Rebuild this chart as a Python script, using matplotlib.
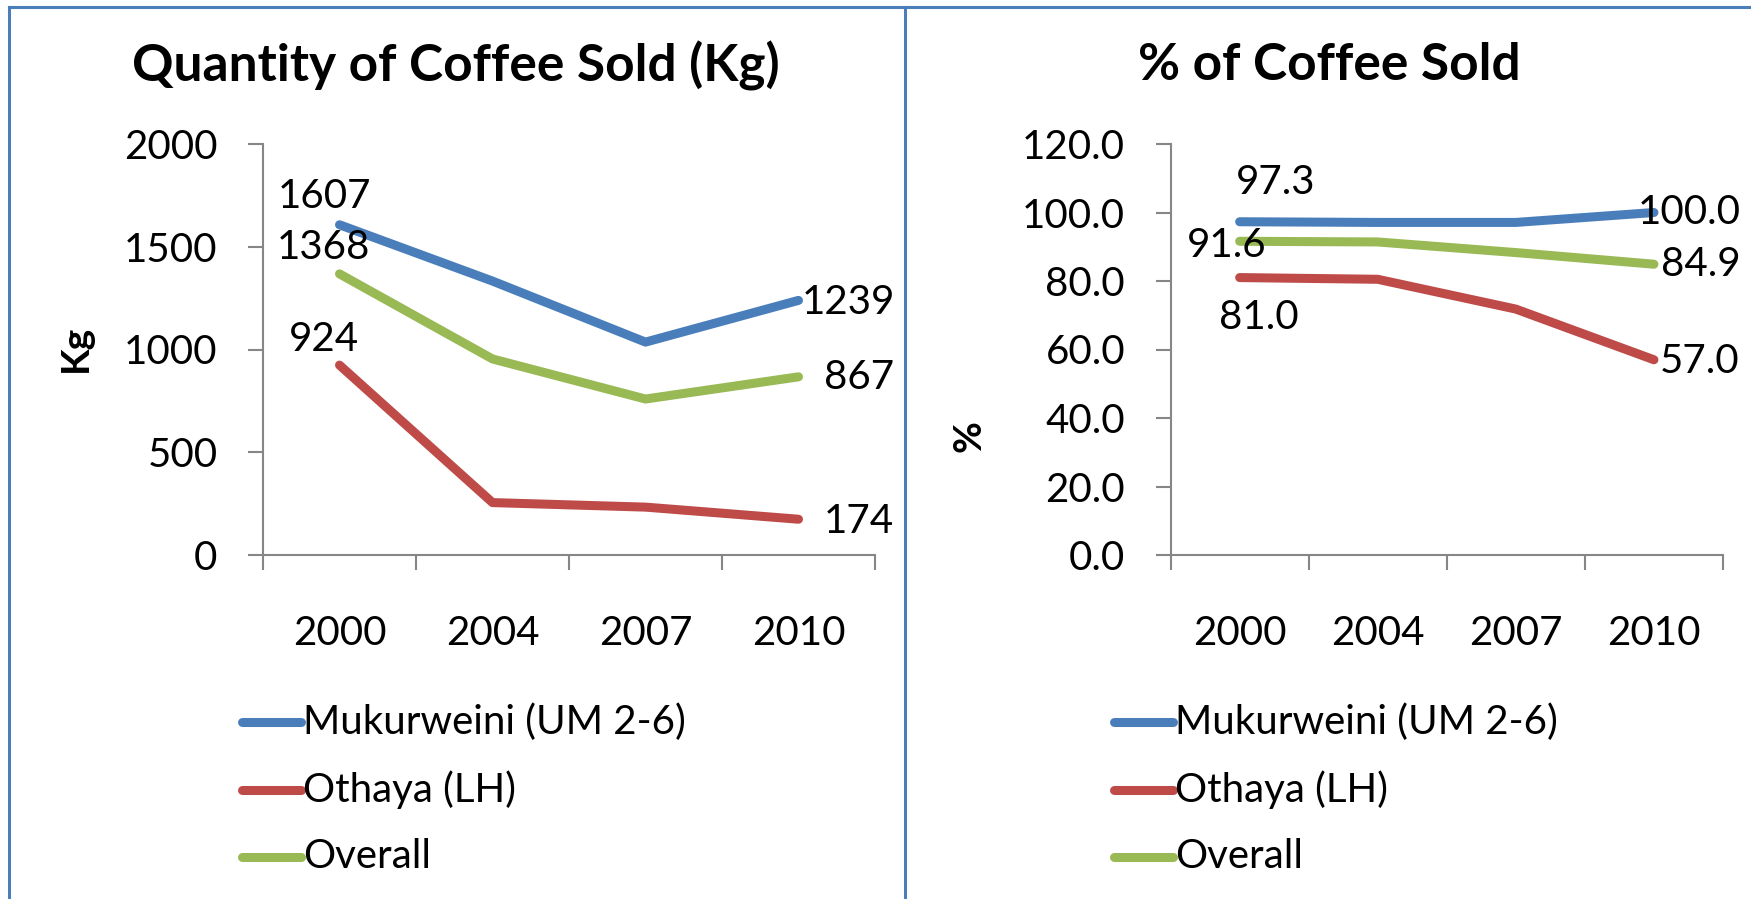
import matplotlib
matplotlib.use("Agg")
import matplotlib.pyplot as plt
from matplotlib.lines import Line2D

plt.rcParams['font.family'] = ['Lato', 'DejaVu Sans']

years = ["2000", "2004", "2007", "2010"]
series_names = ["Mukurweini (UM 2-6)", "Othaya (LH)", "Overall"]
colors = ["#4A7EBB", "#BE4B48", "#98B954"]

qty_mukurweini = [1607, 1333, 1036, 1239]
qty_othaya = [924, 255, 233, 174]
qty_overall = [1368, 954, 759, 867]

pct_mukurweini = [97.3, 97.1, 97.1, 100.0]
pct_othaya = [81.0, 80.5, 71.8, 57.0]
pct_overall = [91.6, 91.4, 88.3, 84.9]

W, H = 1751, 899
fig = plt.figure(figsize=(W / 100, H / 100), dpi=100)

def fx(px):
    return px / W

def fy(py):
    return 1 - py / H

ax_color = "#868686"
FS = 29

def setup_axes(ax, ylim, yticks, fmt):
    ax.set_xlim(-0.5, 3.5)
    ax.set_ylim(*ylim)
    for s in ["top", "right"]:
        ax.spines[s].set_visible(False)
    for s in ["left", "bottom"]:
        ax.spines[s].set_color(ax_color)
        ax.spines[s].set_linewidth(1.5)
    ax.set_yticks(yticks)
    ax.set_yticklabels([fmt.format(v) for v in yticks], fontsize=FS)
    ax.set_xticks(range(len(years)))
    ax.set_xticklabels(years, fontsize=FS)
    ax.set_xticks([i - 0.5 for i in range(len(years) + 1)], minor=True)
    ax.tick_params(axis="x", which="major", length=0, pad=43)
    ax.tick_params(axis="x", which="minor", length=10.8, width=1.5, color=ax_color, direction="out")
    ax.tick_params(axis="y", which="major", length=10.8, width=1.5, color=ax_color, direction="out", pad=22)
    ax.set_facecolor("none")

# Left panel
axL = fig.add_axes([fx(263), fy(555), fx(875) - fx(263), fy(144) - fy(555)])
setup_axes(axL, (0, 2000), [0, 500, 1000, 1500, 2000], "{:.0f}")
qty = [qty_mukurweini, qty_othaya, qty_overall]
for vals, c in zip(qty, colors):
    axL.plot(range(len(years)), vals, color=c, lw=6.5, solid_capstyle="round", clip_on=False)

left_first_offsets = [(-15, 28), (-16, 26), (-16, 26)]
left_last_offsets = [(3, -2), (25, -2), (25, -1)]
for vals, o1, o2 in zip(qty, left_first_offsets, left_last_offsets):
    axL.annotate(f"{vals[0]:.0f}", (0, vals[0]), xytext=o1, textcoords="offset pixels",
                 ha="center", va="center", fontsize=FS, annotation_clip=False)
    axL.annotate(f"{vals[-1]:.0f}", (3, vals[-1]), xytext=o2, textcoords="offset pixels",
                 ha="left", va="center", fontsize=FS, annotation_clip=False)

# Right panel
axR = fig.add_axes([fx(1170.6), fy(555), fx(1723) - fx(1170.6), fy(144) - fy(555)])
setup_axes(axR, (0, 120), [0, 20, 40, 60, 80, 100, 120], "{:.1f}")
pct = [pct_mukurweini, pct_othaya, pct_overall]
for vals, c in zip(pct, colors):
    axR.plot(range(len(years)), vals, color=c, lw=6.5, solid_capstyle="round", clip_on=False)

right_first = [((36, 39), "center"), ((19, -40), "center"), ((-13, -4), "center")]
right_last = [((-16, 0), "left"), ((6, -2), "left"), ((7, 0), "left")]
for vals, (o1, h1), (o2, h2) in zip(pct, right_first, right_last):
    axR.annotate(f"{vals[0]:.1f}", (0, vals[0]), xytext=o1, textcoords="offset pixels",
                 ha=h1, va="center", fontsize=FS, annotation_clip=False)
    axR.annotate(f"{vals[-1]:.1f}", (3, vals[-1]), xytext=o2, textcoords="offset pixels",
                 ha=h2, va="center", fontsize=FS, annotation_clip=False)

# Titles and axis labels
fig.text(fx(456), fy(66), "Quantity of Coffee Sold (Kg)", ha="center", va="center",
         fontsize=37, fontweight="bold")
fig.text(fx(1329), fy(66), "% of Coffee Sold", ha="center", va="center",
         fontsize=37, fontweight="bold")
fig.text(fx(75), fy(348), "Kg", rotation=90, ha="center", va="center", fontsize=28, fontweight="bold")
fig.text(fx(969), fy(436), "%", rotation=90, ha="center", va="center", fontsize=28, fontweight="bold")

# Legends
leg_y = [722, 790, 857]
for x0 in (242, 1114):
    for name, c, y in zip(series_names, colors, leg_y):
        fig.add_artist(Line2D([fx(x0), fx(x0 + 59)], [fy(y), fy(y)], transform=fig.transFigure,
                              color=c, lw=6.5, solid_capstyle="round"))
        fig.text(fx(x0 + 61), fy(y), name, ha="left", va="center", fontsize=FS)

# Frame lines
bc = "#4A7EBB"
fig.add_artist(Line2D([fx(9), 1], [fy(6.5), fy(6.5)], transform=fig.transFigure, color=bc, lw=2.2))
fig.add_artist(Line2D([fx(9), fx(9)], [fy(6.5), 0], transform=fig.transFigure, color=bc, lw=2.2))
fig.add_artist(Line2D([fx(905), fx(905)], [fy(6.5), 0], transform=fig.transFigure, color=bc, lw=2.2))

fig.savefig("out.png", dpi=100)
